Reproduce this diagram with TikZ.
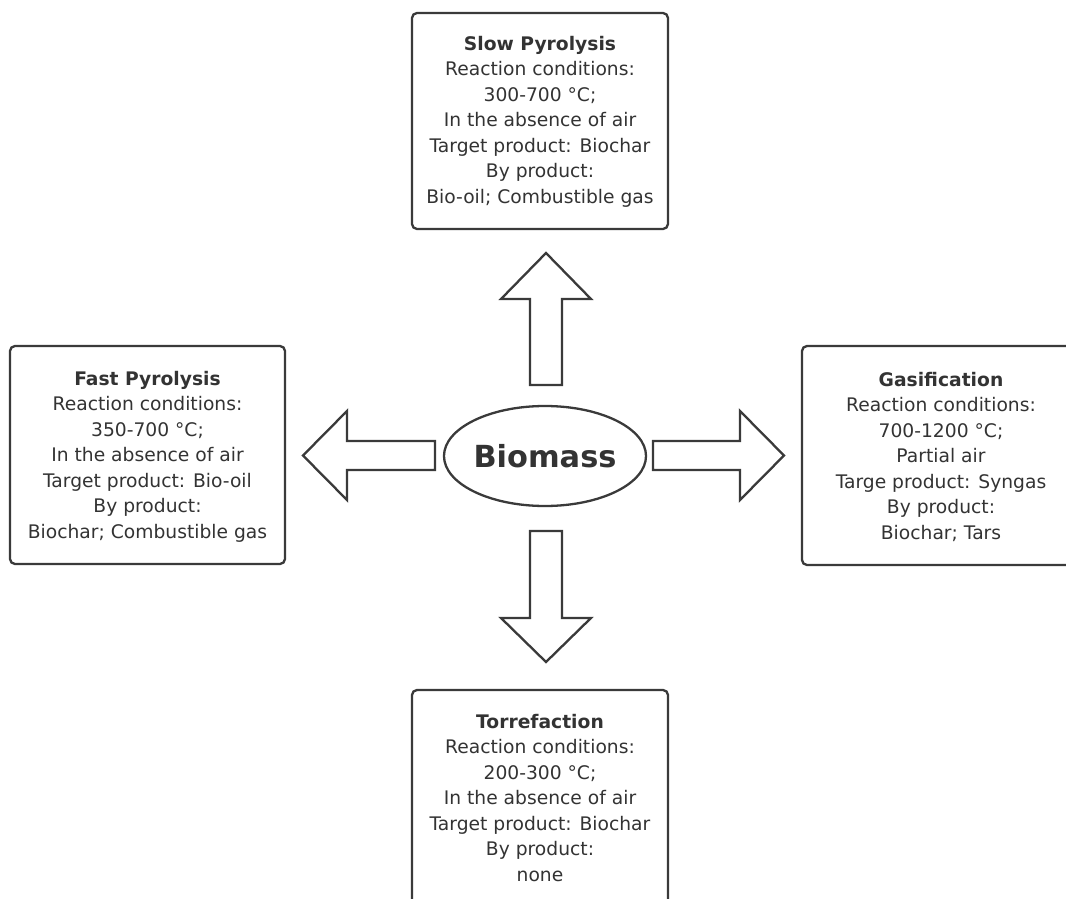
\documentclass[tikz,border=0pt]{standalone}
\usepackage{fontspec}
\setmainfont{DejaVu Sans}
\usetikzlibrary{shapes.geometric}
\definecolor{ink}{HTML}{333333}
\definecolor{edge}{HTML}{3A3A3A}
\tikzset{
  procbox/.style={draw=edge, line width=2.3pt, rounded corners=5pt, fill=white, inner sep=0pt},
  proctext/.style={text=ink, align=center, inner sep=0pt, font={\fontsize{18.7}{25.5}\selectfont}},
  blockarrow/.style={draw=edge, line width=2.3pt, fill=white, line join=miter},
  hub/.style={draw=edge, line width=2.3pt, ellipse, fill=white, inner sep=0pt, text=ink, font={\fontsize{30.4}{34}\selectfont\bfseries}}
}
\begin{document}
\begin{tikzpicture}[x=1pt,y=-1pt]
\useasboundingbox (0,0) rectangle (1066,899);
\clip (0,0) rectangle (1066,899);
% boxes
\node[procbox, minimum width=256pt, minimum height=216pt] (slowbox) at (540,121) {};
\node[procbox, minimum width=275pt, minimum height=218pt] (fastbox) at (147.5,455) {};
\node[procbox, minimum width=278pt, minimum height=219pt] (gasbox) at (941,455.5) {};
\node[procbox, minimum width=256pt, minimum height=240pt] (torrbox) at (540,810) {};
% texts
\node[proctext] (slow) at (540,121.5) {\textbf{Slow Pyrolysis}\\Reaction conditions:\\300-700 °C;\\In the absence of air\\Target product: Biochar\\By product:\\Bio-oil; Combustible gas};
\node[proctext] (fast) at (147.5,456.5) {\textbf{Fast Pyrolysis}\\Reaction conditions:\\350-700 °C;\\In the absence of air\\Target product: Bio-oil\\By product:\\Biochar; Combustible gas};
\node[proctext] (gas) at (941,456.5) {\textbf{Gasification}\\Reaction conditions:\\700-1200 °C;\\Partial air\\Targe product: Syngas\\By product:\\Biochar; Tars};
\node[proctext] (torr) at (540,798) {\textbf{Torrefaction}\\Reaction conditions:\\200-300 °C;\\In the absence of air\\Target product: Biochar\\By product:\\none};
% hub
\node[hub, minimum width=184pt, minimum height=100pt] (bio) at (545,456) {Biomass};
% block arrows
\draw[blockarrow] (530,385) -- (530,299) -- (501,299) -- (546,253) -- (591,299) -- (562,299) -- (562,385) -- cycle;
\draw[blockarrow] (530,531) -- (530,618) -- (501,618) -- (546,662) -- (591,618) -- (562,618) -- (562,531) -- cycle;
\draw[blockarrow] (435,441) -- (347,441) -- (347,411) -- (303,455.5) -- (347,500) -- (347,470) -- (435,470) -- cycle;
\draw[blockarrow] (653,441) -- (740,441) -- (740,411) -- (784,455.5) -- (740,500) -- (740,470) -- (653,470) -- cycle;
\end{tikzpicture}
\end{document}
